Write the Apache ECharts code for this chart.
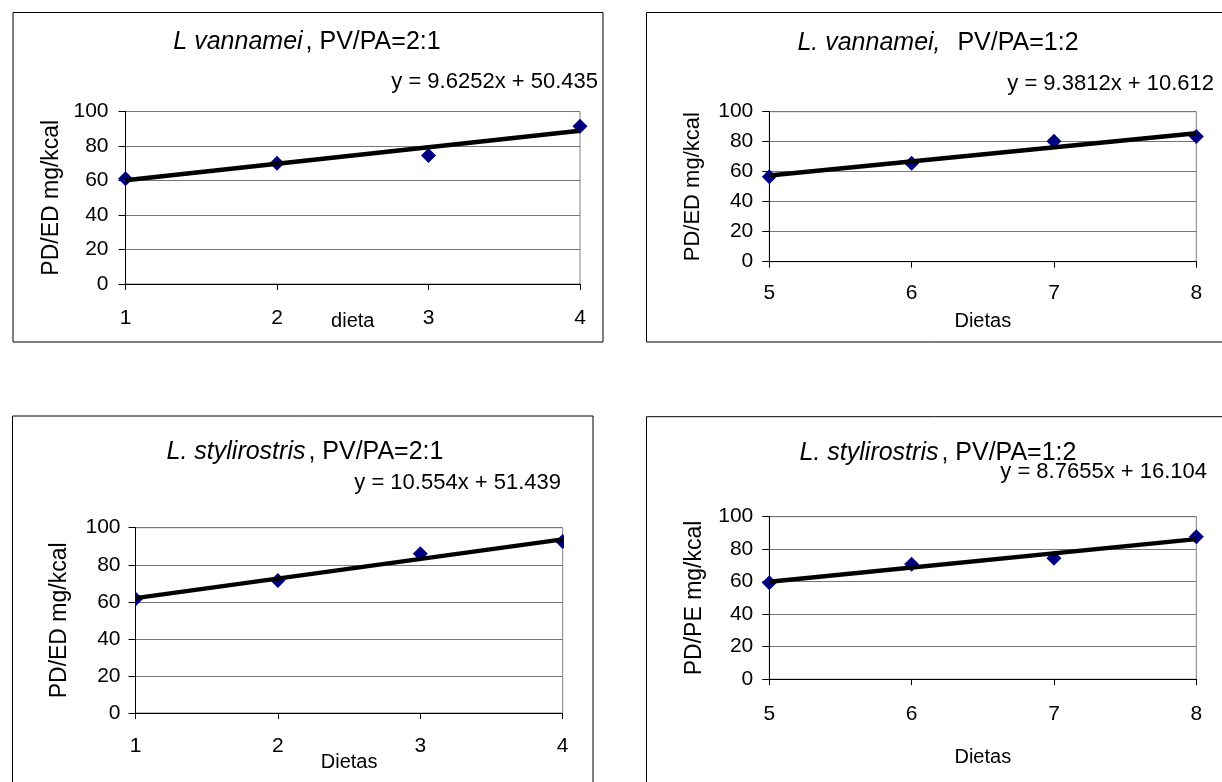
<!DOCTYPE html>
<html>
<head>
<meta charset="utf-8">
<script src="https://cdn.jsdelivr.net/npm/echarts@6/dist/echarts.min.js"></script>
<style>
html,body{margin:0;padding:0;background:#fff;}
#chart{width:1222px;height:782px;}
</style>
</head>
<body>
<div id="chart"></div>
<script>
// ---- data ----
var dietsA = [1, 2, 3, 4];
var dietsB = [5, 6, 7, 8];
var yTicks = [0, 20, 40, 60, 80, 100];

var vannamei21 = [61, 70, 74.5, 91.5];
var vannamei12 = [56.7, 65.7, 80.3, 83.4];
var styliro21 = [61.5, 71.5, 86, 92.5];
var styliro12 = [59.4, 70.7, 74.4, 87.7];

// trend line values at first and last diet (as drawn in the picture)
var vannamei21Trend = [60.1, 88.9];
var vannamei12Trend = [57.5, 85.7];
var styliro21Trend = [62.0, 93.7];
var styliro12Trend = [59.9, 86.2];

var equations = ['y = 9.6252x + 50.435', 'y = 9.3812x + 10.612', 'y = 10.554x + 51.439', 'y = 8.7655x + 16.104'];
var titlesItalic = ['L vannamei', 'L. vannamei,', 'L. stylirostris', 'L. stylirostris'];
var titlesNormal = [', PV/PA=2:1', '  PV/PA=1:2', ', PV/PA=2:1', ', PV/PA=1:2'];
var yNames = ['PD/ED mg/kcal', 'PD/ED mg/kcal', 'PD/ED mg/kcal', 'PD/PE mg/kcal'];
var xNames = ['dieta', 'Dietas', 'Dietas', 'Dietas'];

// ---- layout ----
var FONT = "'Liberation Sans', Arial, Helvetica, sans-serif";
var panels = [
  {grid:{left:125.5, top:111.5, width:454.5, height:172.5}, box:[13,12.5,590,329.5], xs:dietsA, ys:vannamei21, tr:vannamei21Trend,
   title:[307,42], eq:[598,82], yLabMargin:17, xLabMargin:24, yNameGap:62, yNameSize:23, xNameGap:27, clip:false},
  {grid:{left:769.3, top:111.7, width:427, height:150}, box:[646.5,12.5,600,329.5], xs:dietsB, ys:vannamei12, tr:vannamei12Trend,
   title:[938,43], eq:[1214,84], yLabMargin:16, xLabMargin:21, yNameGap:65, yNameSize:22, xNameGap:50, clip:false},
  {grid:{left:135.5, top:527.7, width:427.2, height:185.3}, box:[12.5,416,580.5,400], xs:dietsA, ys:styliro21, tr:styliro21Trend,
   title:[305,452], eq:[561,483], yLabMargin:15, xLabMargin:23, yNameGap:64, yNameSize:23, xNameGap:39, clip:true},
  {grid:{left:769.3, top:516.7, width:427, height:162.5}, box:[646.5,416.7,600,400], xs:dietsB, ys:styliro12, tr:styliro12Trend,
   title:[938,453], eq:[1207,472], yLabMargin:16, xLabMargin:25, yNameGap:63, yNameSize:23, xNameGap:68, clip:false}
];

var grids = [], xAxes = [], yAxes = [], series = [], graphics = [];

panels.forEach(function(p, i){
  grids.push({left:p.grid.left, top:p.grid.top, width:p.grid.width, height:p.grid.height,
    show:true, borderColor:'#808080', borderWidth:1, backgroundColor:'transparent'});
  var xs = p.xs;
  xAxes.push({
    type:'value', gridIndex:i, min:xs[0], max:xs[xs.length-1], interval:1,
    name:xNames[i], nameLocation:'middle', nameGap:p.xNameGap, nameMoveOverlap:false,
    nameTextStyle:{fontFamily:FONT, fontSize:20, color:'#000'},
    axisLine:{show:true, onZero:false, lineStyle:{color:'#000', width:1}},
    axisTick:{show:true, inside:false, length:6, lineStyle:{color:'#000'}},
    axisLabel:{fontFamily:FONT, fontSize:21, color:'#000', margin:p.xLabMargin},
    splitLine:{show:false}
  });
  yAxes.push({
    type:'value', gridIndex:i, min:yTicks[0], max:yTicks[yTicks.length-1], interval:yTicks[1]-yTicks[0],
    name:yNames[i], nameLocation:'middle', nameRotate:90, nameGap:p.yNameGap, nameMoveOverlap:false,
    nameTextStyle:{fontFamily:FONT, fontSize:p.yNameSize, color:'#000'},
    axisLine:{show:true, lineStyle:{color:'#000', width:1}},
    axisTick:{show:true, inside:false, length:7, lineStyle:{color:'#000'}},
    axisLabel:{fontFamily:FONT, fontSize:21, color:'#000', margin:p.yLabMargin},
    splitLine:{show:true, lineStyle:{color:'#777', width:1}}
  });
  var pts = xs.map(function(x, k){ return [x, p.ys[k]]; });
  series.push({
    type:'custom', xAxisIndex:i, yAxisIndex:i, data:pts, clip:p.clip, z:2,
    renderItem:function(params, api){
      var c = api.coord([api.value(0), api.value(1)]);
      var s = 7.5;
      return {type:'polygon', shape:{points:[[c[0],c[1]-s],[c[0]+s,c[1]],[c[0],c[1]+s],[c[0]-s,c[1]]]},
        style:{fill:'#000080', stroke:null}};
    }
  });
  series.push({
    type:'line', xAxisIndex:i, yAxisIndex:i, clip:false, z:3,
    data:[[xs[0], p.tr[0]], [xs[xs.length-1], p.tr[1]]],
    showSymbol:false, symbol:'none', silent:true,
    lineStyle:{color:'#000', width:4.5}
  });
  graphics.push({type:'rect', z:0, silent:true,
    shape:{x:p.box[0], y:p.box[1], width:p.box[2], height:p.box[3]},
    style:{fill:null, stroke:'#000', lineWidth:1}});
  graphics.push({type:'text', z:10, x:p.title[0], y:p.title[1],
    style:{text:'{i|' + titlesItalic[i] + '}{n|' + titlesNormal[i] + '}', align:'center', verticalAlign:'middle',
      rich:{i:{fontFamily:FONT, fontSize:25, fontStyle:'italic', fill:'#000', padding:[0,3,0,0]},
            n:{fontFamily:FONT, fontSize:25, fill:'#000'}}}});
  graphics.push({type:'text', z:10, x:p.eq[0], y:p.eq[1],
    style:{text:equations[i], align:'right', verticalAlign:'middle', font:'22px ' + FONT, fill:'#000'}});
});

var chart = echarts.init(document.getElementById('chart'), null, {renderer:'canvas'});
chart.setOption({
  animation:false,
  backgroundColor:'#fff',
  grid:grids, xAxis:xAxes, yAxis:yAxes, series:series, graphic:graphics
});
</script>
</body>
</html>
